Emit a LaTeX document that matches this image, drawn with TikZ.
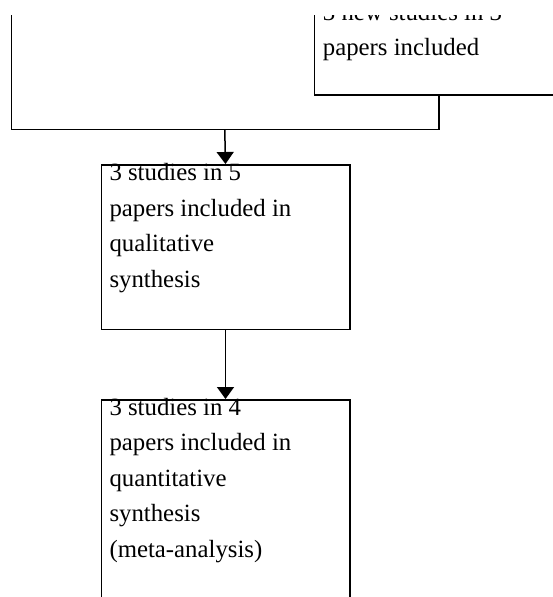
\documentclass[tikz,border=0pt]{standalone}
\usepackage{fontspec}
\setmainfont{Liberation Serif}
\usetikzlibrary{arrows.meta}
\tikzset{
  box/.style={draw=black, line width=1.5pt, minimum width=248.5pt, inner sep=0pt, anchor=north west},
  txt/.style={anchor=base west, inner sep=0pt, align=left, font=\fontsize{24.8pt}{35.5pt}\selectfont},
  conn/.style={draw=black, line width=1.5pt},
  arr/.style={conn, -{Triangle[width=17pt, length=12pt]}}
}
\begin{document}
\begin{tikzpicture}[x=1pt, y=-1pt]
\useasboundingbox (0,0) rectangle (553,597);
\clip (0,15) rectangle (553,597);
% boxes
\node[box, minimum height=164.5pt] (b1) at (313.75,-70.5) {};
\node[box, minimum height=164.5pt] (b2) at (100.5,164) {};
\node[box, minimum height=230pt] (b3) at (100.5,399) {};
% texts (anchored at the baseline of their last line)
\node[txt] (t1) at (322.7,55.5) {3 new studies in 3\\papers included};
\node[txt] (t2) at (109.3,287) {3 studies in 5\\papers included in\\qualitative\\synthesis};
\node[txt] (t3) at (109.3,557) {3 studies in 4\\papers included in\\quantitative\\synthesis\\(meta-analysis)};
% connectors
\coordinate (c0) at (11.5,0);
\coordinate (j) at (224.75,129.5);
\draw[conn] (c0) |- (j) -| (b1.south);
\draw[arr] (j) -- (b2.north);
\draw[arr] (b2.south) -- (b3.north);
\end{tikzpicture}
\end{document}
